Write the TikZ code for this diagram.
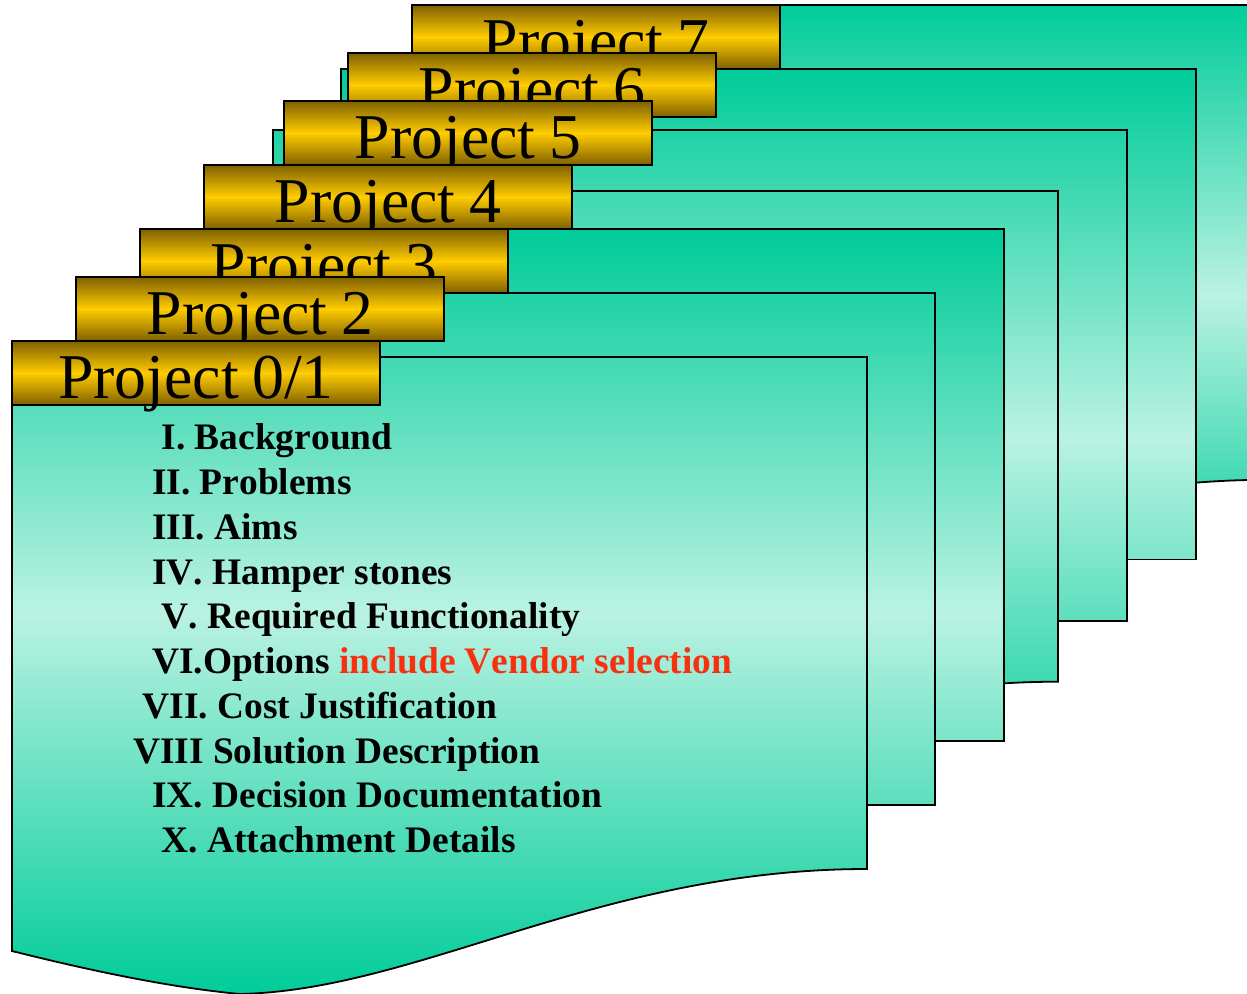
\documentclass[tikz,border=0pt]{standalone}
\usepackage{fontspec}
\setmainfont[Kerning=Off]{Liberation Serif}
\definecolor{tealD}{HTML}{00CC99}
\definecolor{tealL}{HTML}{BAF2E2}
\definecolor{goldD}{HTML}{7F6000}
\definecolor{goldL}{HTML}{FFCC00}
\definecolor{redT}{HTML}{F7300F}
\pgfdeclareverticalshading{tealgrad}{100bp}{color(0bp)=(tealD); color(25bp)=(tealD); color(50bp)=(tealL); color(75bp)=(tealD); color(100bp)=(tealD)}
\pgfdeclareverticalshading{goldgrad}{100bp}{color(0bp)=(goldD); color(25bp)=(goldD); color(50bp)=(goldL); color(75bp)=(goldD); color(100bp)=(goldD)}
\tikzset{
  tabbox/.style={draw=black, line width=1.8pt, shade, shading=goldgrad, inner sep=0pt, outer sep=0pt, anchor=north west,
    minimum width=368pt, minimum height=64pt, text width=368pt, align=center,
    text height=57pt, text depth=7pt, font=\fontsize{63.8}{70}\selectfont},
  item/.style={anchor=base west, inner sep=0pt, font=\fontsize{37.4}{44}\selectfont\bfseries},
  sheetline/.style={draw=black, line width=1.8pt}
}
\newcommand\prj[1]{Project\hspace{13.5pt}#1}
% wavy sheet: left, top, right, bottom at right end, gradient top, gradient bottom
\newcommand\wavesheet[6]{%
  \pgfmathsetmacro\xa{#3-267}\pgfmathsetmacro\xb{#3-447}\pgfmathsetmacro\xc{#3-627}%
  \pgfmathsetmacro\xd{#3-697}\pgfmathsetmacro\xe{#3-777}%
  \pgfmathsetmacro\ya{#4+121}\pgfmathsetmacro\yb{#4+125}\pgfmathsetmacro\yc{#4+118.5}%
  \pgfmathsetmacro\yd{#4+101.5}\pgfmathsetmacro\ye{#4+82}%
  \begin{scope}
    \clip (#1,#2) -- (#3,#2) -- (#3,#4) .. controls (\xa,#4) and (\xb,\ya) .. (\xc,\yb) .. controls (\xd,\yc) and (\xe,\yd) .. (#1,\ye) -- cycle;
    \shade[shading=tealgrad] (#1,#5) rectangle (#3,#6);
  \end{scope}
  \draw[sheetline] (#1,#2) -- (#3,#2) -- (#3,#4) .. controls (\xa,#4) and (\xb,\ya) .. (\xc,\yb) .. controls (\xd,\yc) and (\xe,\yd) .. (#1,\ye) -- cycle;
}
% flat sheet: left, top, right, bottom, gradient top, gradient bottom
\newcommand\flatsheet[6]{%
  \begin{scope}
    \clip (#1,#2) rectangle (#3,#4);
    \shade[shading=tealgrad] (#1,#5) rectangle (#3,#6);
  \end{scope}
  \draw[sheetline] (#1,#2) rectangle (#3,#4);
}
\begin{document}
\begin{tikzpicture}[x=1pt,y=-1pt]
\clip (0,0) rectangle (1247,993);
\fill[white] (0,0) rectangle (1247,993);
\wavesheet{412}{5}{1267}{479.8}{5}{585}
\node[tabbox] (tab7) at (412,5) {\prj{7}};
\flatsheet{341}{69}{1196}{559.5}{69}{804}
\node[tabbox] (tab6) at (348,53) {\prj{6}};
\flatsheet{273}{130}{1127}{621}{69}{804}
\node[tabbox] (tab5) at (284,101) {\prj{5}};
\wavesheet{204}{191}{1058}{681.7}{69}{804}
\node[tabbox] (tab4) at (204,165) {\prj{4}};
\flatsheet{149}{229}{1004}{741}{229}{995}
\node[tabbox] (tab3) at (140,229) {\prj{3}};
\flatsheet{80}{293}{935}{805}{229}{995}
\node[tabbox] (tab2) at (76,277) {\prj{2}};
\wavesheet{12}{357}{867}{869}{229}{995}
\node[tabbox] (tab1) at (12,341) {\prj{0/1}};
\node[item] (i1) at (161.5,449) {I. Background};
\node[item] (i2) at (152,494) {II. Problems};
\node[item] (i3) at (152,539) {III. Aims};
\node[item] (i4) at (152,584) {IV. Hamper stones};
\node[item] (i5) at (161.5,628) {V. Required Functionality};
\node[item] (i6) at (152,673) {VI.Options \textcolor{redT}{include Vendor selection}};
\node[item] (i7) at (142.5,718) {VII. Cost Justification};
\node[item] (i8) at (133,763) {VIII Solution Description};
\node[item] (i9) at (152,807) {IX. Decision Documentation};
\node[item] (i10) at (161.5,852) {X. Attachment Details};
\end{tikzpicture}
\end{document}
